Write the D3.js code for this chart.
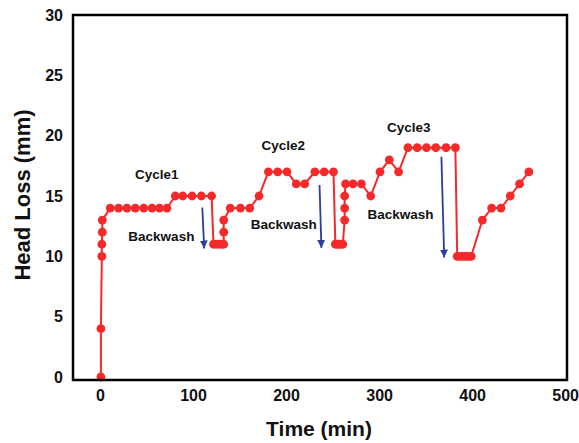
<!DOCTYPE html>
<html>
<head>
<meta charset="utf-8">
<script src="https://cdn.jsdelivr.net/npm/d3@7"></script>
<style>
  html, body { margin: 0; padding: 0; background: #fff; }
  svg { display: block; font-family: "Liberation Sans", Arial, sans-serif; }
</style>
</head>
<body>
<svg id="chart" width="579" height="443"></svg>
<script>
// Head loss readings over the filter run (minutes, mm)
const timeMin = [
  1, 1, 2, 2, 2.5, 2.5,
  11, 20, 29, 38, 47, 56, 64, 72,
  81, 89, 99, 109, 120,
  122, 125, 128, 131, 133,
  133, 133,
  140, 151, 161, 171,
  181, 191, 201, 211, 220,
  231, 241, 251,
  253, 255, 257, 259, 261,
  263, 263, 263,
  264, 272, 281, 291,
  301, 311, 321,
  331, 341, 351, 361, 372, 382,
  384, 387, 390, 393, 396, 399,
  411, 421, 431, 441, 451, 461
];
const headLoss = [
  0, 4, 10, 11, 12, 13,
  14, 14, 14, 14, 14, 14, 14, 14,
  15, 15, 15, 15, 15,
  11, 11, 11, 11, 11,
  12, 13,
  14, 14, 14, 15,
  17, 17, 17, 16, 16,
  17, 17, 17,
  11, 11, 11, 11, 11,
  13, 14, 15,
  16, 16, 16, 15,
  17, 18, 17,
  19, 19, 19, 19, 19, 19,
  10, 10, 10, 10, 10, 10,
  13, 14, 14, 15, 16, 17
];

// Axis ticks
const xTicks = [0, 100, 200, 300, 400, 500];
const yTicks = [0, 5, 10, 15, 20, 25, 30];

// Backwash arrows: start and end in data units
const arrowStartT = [110, 236, 367];
const arrowStartV = [14.05, 15.9, 18.25];
const arrowEndT = [112, 238, 370];
const arrowEndV = [10.65, 10.7, 9.9];

// Annotation text
const cycleLabels = ["Cycle1", "Cycle2", "Cycle3"];
const cycleT = [61, 197, 332];
const cycleV = [16.75, 19.2, 20.7];
const backwashLabel = "Backwash";
const backwashT = [66, 197.5, 323];
const backwashV = [11.63, 12.6, 13.45];

const svg = d3.select("#chart");
const plotL = 73, plotR = 567, plotT = 15, plotB = 380;

const x = d3.scaleLinear().domain([-29, 502]).range([plotL, plotR]);
const y = d3.scaleLinear().domain([-0.25, 30]).range([plotB, plotT]);

const red = "#f42a2a";
const blue = "#2d3d9b";

// Axes (labels only, no tick marks)
const gx = svg.append("g")
  .attr("transform", `translate(0,${plotB})`)
  .call(d3.axisBottom(x).tickValues(xTicks).tickSize(0).tickPadding(10));
const gy = svg.append("g")
  .attr("transform", `translate(${plotL},0)`)
  .call(d3.axisLeft(y).tickValues(yTicks).tickSize(0).tickPadding(10));
[gx, gy].forEach(g => {
  g.select(".domain").remove();
  g.selectAll("text")
    .attr("font-family", "'Liberation Sans', Arial, sans-serif")
    .attr("font-size", 16)
    .attr("font-weight", "bold")
    .attr("fill", "#111");
});

// Data line and markers
const pts = timeMin.map((t, i) => [t, headLoss[i]]);
const line = d3.line().x(d => x(d[0])).y(d => y(d[1]));

svg.append("path")
  .datum(pts)
  .attr("d", line)
  .attr("fill", "none")
  .attr("stroke", red)
  .attr("stroke-width", 2);

svg.append("g")
  .selectAll("circle")
  .data(pts)
  .join("circle")
  .attr("cx", d => x(d[0]))
  .attr("cy", d => y(d[1]))
  .attr("r", 4.4)
  .attr("fill", red);

// Backwash arrows
svg.append("defs").append("marker")
  .attr("id", "head")
  .attr("viewBox", "0 0 10 10")
  .attr("refX", 10).attr("refY", 5)
  .attr("markerWidth", 8).attr("markerHeight", 8)
  .attr("markerUnits", "userSpaceOnUse")
  .attr("orient", "auto")
  .append("path")
  .attr("d", "M0,0 L10,5 L0,10 Z")
  .attr("fill", blue);

svg.append("g")
  .selectAll("line")
  .data(arrowStartT.map((t, i) => i))
  .join("line")
  .attr("x1", i => x(arrowStartT[i]))
  .attr("y1", i => y(arrowStartV[i]))
  .attr("x2", i => x(arrowEndT[i]))
  .attr("y2", i => y(arrowEndV[i]))
  .attr("stroke", blue)
  .attr("stroke-width", 1.8)
  .attr("marker-end", "url(#head)");

// Annotations
const ann = svg.append("g")
  .attr("font-size", 13.5)
  .attr("font-weight", "bold")
  .attr("fill", "#111")
  .attr("text-anchor", "middle")
  .attr("dominant-baseline", "central");

cycleLabels.forEach((s, i) => {
  ann.append("text").attr("x", x(cycleT[i])).attr("y", y(cycleV[i])).text(s);
});
backwashT.forEach((t, i) => {
  ann.append("text").attr("x", x(t)).attr("y", y(backwashV[i])).text(backwashLabel);
});

// Plot frame
svg.append("rect")
  .attr("x", plotL).attr("y", plotT)
  .attr("width", plotR - plotL).attr("height", plotB - plotT)
  .attr("fill", "none")
  .attr("stroke", "#000")
  .attr("stroke-width", 2.5);

// Axis titles
svg.append("text")
  .attr("x", 319).attr("y", 428)
  .attr("text-anchor", "middle")
  .attr("dominant-baseline", "central")
  .attr("font-size", 21)
  .attr("font-weight", "bold")
  .attr("fill", "#111")
  .text("Time (min)");

svg.append("text")
  .attr("transform", "translate(22,195) rotate(-90)")
  .attr("text-anchor", "middle")
  .attr("dominant-baseline", "central")
  .attr("font-size", 22)
  .attr("font-weight", "bold")
  .attr("fill", "#111")
  .text("Head Loss (mm)");
</script>
</body>
</html>
